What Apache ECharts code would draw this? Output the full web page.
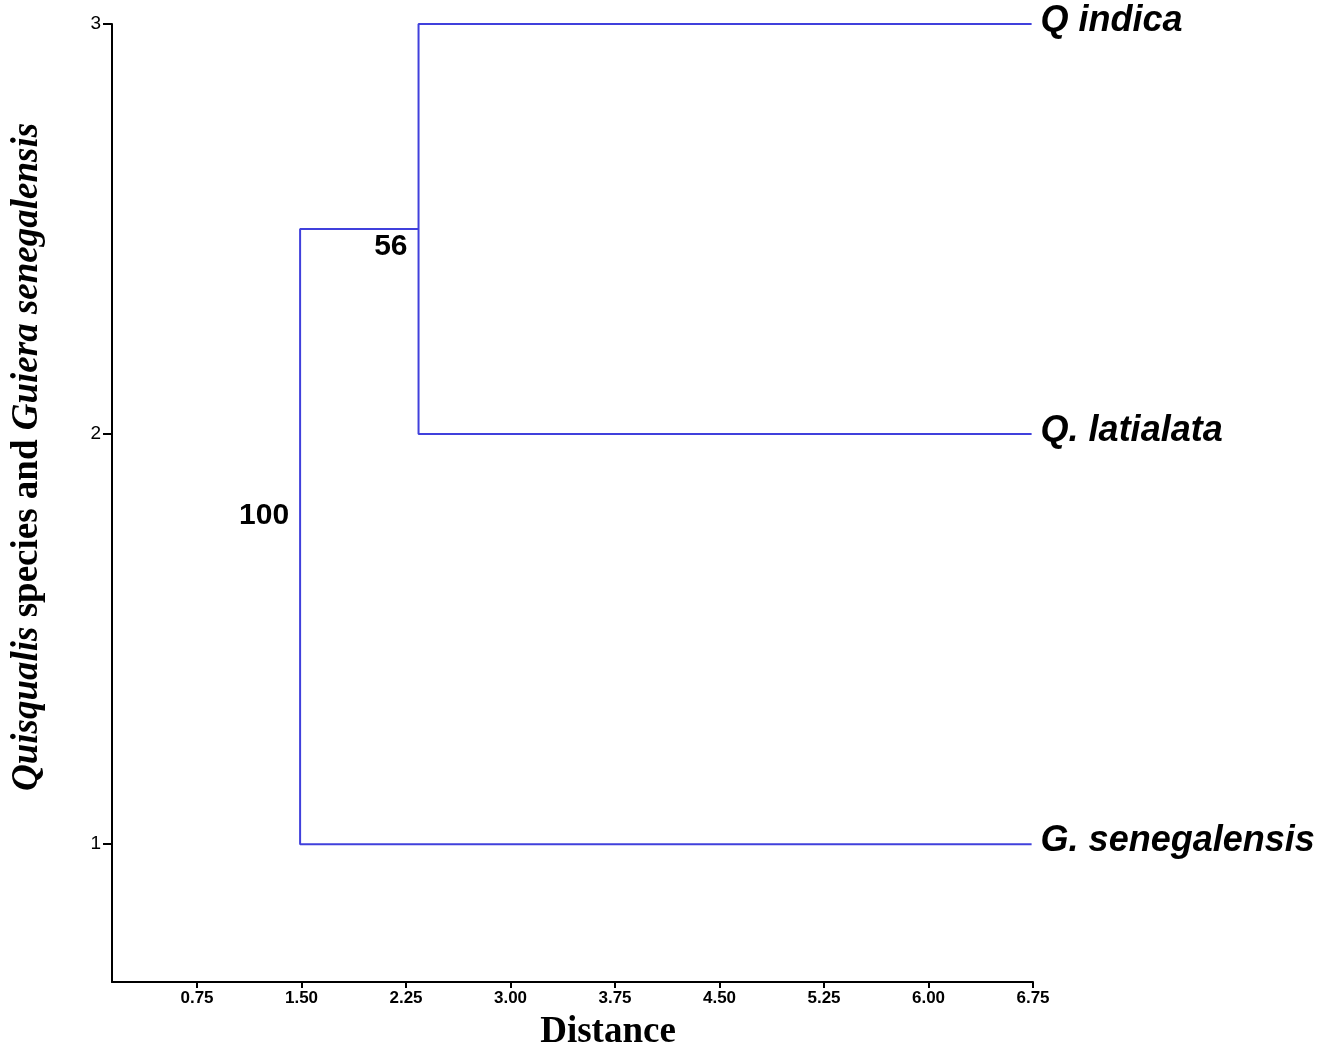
<!DOCTYPE html>
<html><head><meta charset="utf-8">
<script src="https://cdn.jsdelivr.net/npm/echarts@6/dist/echarts.min.js"></script>
<style>html,body{margin:0;padding:0;background:#fff}#c{width:1333px;height:1050px}</style>
</head><body><div id="c"></div>
<script>
// Dendrogram data
const leafNames = ['Q indica', 'Q. latialata', 'G. senegalensis'];
const leafY = [3, 2, 1];
const leafDist = [6.74, 6.74, 6.74];
const nodeDist = [2.34, 1.49];          // clade joining distances
const nodeSupport = ['56', '100'];      // bootstrap support
const xTickValues = [0.75, 1.5, 2.25, 3, 3.75, 4.5, 5.25, 6, 6.75];
const yTickValues = [1, 2, 3];

const node1Y = (leafY[0] + leafY[1]) / 2;
const clade1 = [[leafDist[0], leafY[0]], [nodeDist[0], leafY[0]], [nodeDist[0], leafY[1]], [leafDist[1], leafY[1]]];
const clade2 = [[nodeDist[0], node1Y], [nodeDist[1], node1Y], [nodeDist[1], leafY[2]], [leafDist[2], leafY[2]]];

const blue = '#4040dc';
const chart = echarts.init(document.getElementById('c'));
chart.setOption({
  animation: false,
  backgroundColor: '#fff',
  grid: { left: 112, right: 300, top: 24, bottom: 68 },
  xAxis: {
    type: 'value', min: 0.14, max: 6.75,
    splitLine: { show: false },
    axisLine: { show: true, lineStyle: { color: '#000', width: 2 } },
    axisTick: { show: true, customValues: xTickValues, length: 6, lineStyle: { color: '#000', width: 2 } },
    axisLabel: { customValues: xTickValues, formatter: v => v.toFixed(2), fontSize: 17, fontWeight: 'bold',
      fontFamily: 'Liberation Sans', color: '#000', margin: 8 }
  },
  yAxis: {
    type: 'value', min: 0.664, max: 3,
    splitLine: { show: false },
    axisLine: { show: true, lineStyle: { color: '#000', width: 2 } },
    axisTick: { show: true, customValues: yTickValues, length: 9, lineStyle: { color: '#000', width: 2 } },
    axisLabel: { customValues: yTickValues, fontSize: 19, fontFamily: 'Liberation Sans', color: '#000', margin: 11 }
  },
  series: [
    { type: 'line', data: clade1, symbol: 'none', lineStyle: { color: blue, width: 2 } },
    { type: 'line', data: clade2, symbol: 'none', lineStyle: { color: blue, width: 2 } },
    {
      type: 'scatter', symbolSize: 0, itemStyle: { opacity: 1 },
      data: leafY.map((y, i) => ({ value: [leafDist[i], y], name: leafNames[i] })),
      label: { show: true, position: 'right', distance: 9, formatter: '{b}', offset: [0, -3], opacity: 1,
        fontStyle: 'italic', fontWeight: 'bold', fontSize: 36, fontFamily: 'Liberation Sans', color: '#000' }
    },
    {
      type: 'scatter', symbolSize: 0, itemStyle: { opacity: 1 },
      data: [
        { value: [nodeDist[0], node1Y], name: nodeSupport[0], label: { offset: [0, 18] } },
        { value: [nodeDist[1], (node1Y + leafY[2]) / 2], name: nodeSupport[1], label: { offset: [0, -21] } }
      ],
      label: { show: true, position: 'left', distance: 11, formatter: '{b}', opacity: 1,
        fontWeight: 'bold', fontSize: 30, fontFamily: 'Liberation Sans', color: '#000' }
    }
  ],
  graphic: [
    {
      type: 'text', x: 27, y: 457, rotation: Math.PI / 2,
      style: {
        text: '{i|Quisqualis}{n| species and }{i|Guiera senegalensis}',
        align: 'center', verticalAlign: 'middle',
        rich: {
          i: { fontFamily: 'Liberation Serif', fontWeight: 'bold', fontStyle: 'italic', fontSize: 37, fill: '#000' },
          n: { fontFamily: 'Liberation Serif', fontWeight: 'bold', fontSize: 37, fill: '#000' }
        }
      }
    },
    {
      type: 'text', x: 608, y: 1032,
      style: { text: 'Distance', align: 'center', verticalAlign: 'middle',
        font: 'bold 37px "Liberation Serif"', fill: '#000' }
    }
  ]
});
</script>
</body></html>
